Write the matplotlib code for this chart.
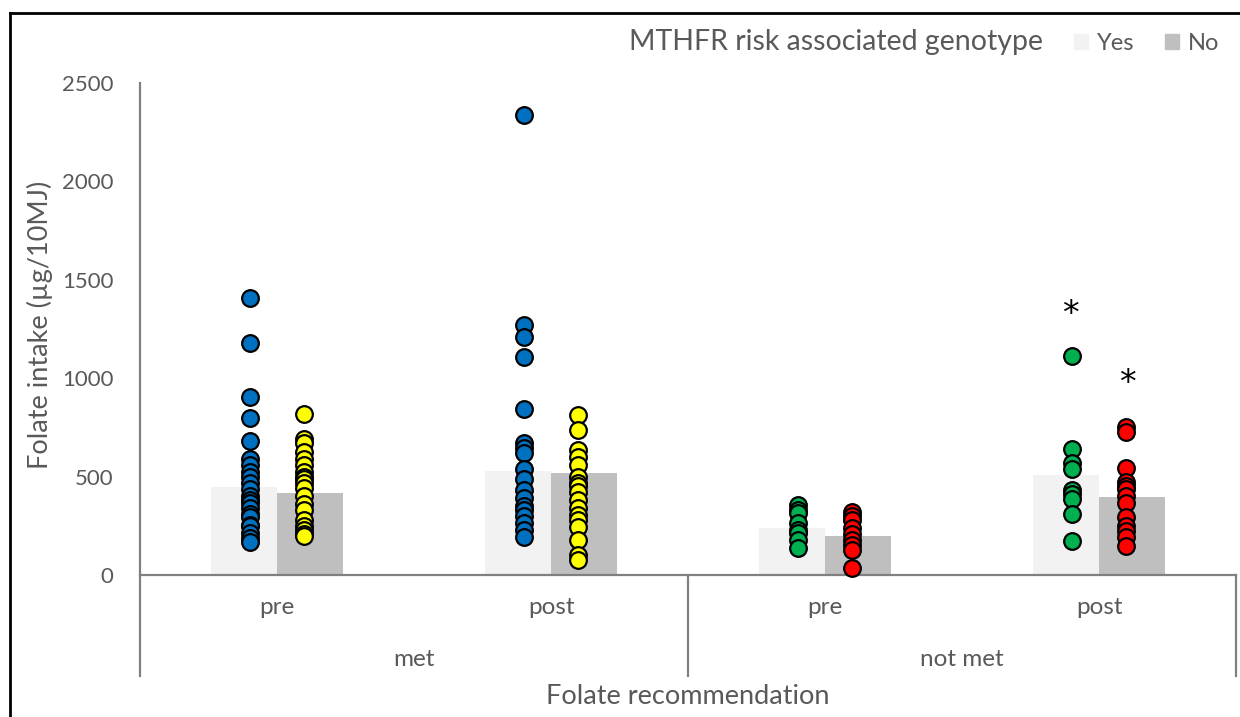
import numpy as np
import matplotlib
matplotlib.use("Agg")
import matplotlib.pyplot as plt
from matplotlib.lines import Line2D
from matplotlib.patches import Patch

plt.rcParams['font.family'] = ['Lato', 'DejaVu Sans']

# groups: met/pre, met/post, not met/pre, not met/post
sub_labels = ["pre", "post", "pre", "post"]
top_labels = ["met", "not met"]

bar_yes = [449, 528, 237, 508]
bar_no = [415, 520, 198, 396]

pts_yes = [
    [1406, 1180, 905, 800, 680, 590, 560, 525, 500, 465, 435, 400, 380, 365, 340, 310, 295, 255, 250, 215, 190, 170],
    [2337, 1270, 1210, 1110, 842, 670, 645, 620, 540, 490, 430, 390, 350, 330, 300, 263, 230, 195],
    [356, 330, 313, 266, 230, 212, 178, 136],
    [1113, 639, 567, 537, 430, 410, 385, 310, 174],
]
pts_no = [
    [820, 690, 670, 625, 590, 560, 525, 500, 490, 470, 440, 400, 360, 330, 280, 250, 230, 210, 200],
    [813, 737, 635, 600, 560, 500, 470, 450, 420, 380, 340, 305, 280, 245, 180, 100, 76],
    [322, 300, 279, 237, 210, 178, 150, 127, 34],
    [754, 729, 545, 474, 450, 435, 400, 367, 296, 250, 225, 195, 147],
]
col_yes = ["#0070C0", "#0070C0", "#00B050", "#00B050"]
col_no = ["#FFFF00", "#FFFF00", "#FF0000", "#FF0000"]

# significance markers (group index, side, y)
stars = [(3, -1, 1325), (3, 1, 975)]

grey = "#595959"
axis_col = "#808080"

W, H = 1240, 717
fig = plt.figure(figsize=(W / 100, H / 100), dpi=100)
ax = fig.add_axes([140 / W, 1 - 575 / H, (1236 - 140) / W, (575 - 83) / H])

x = np.arange(4) + 0.5
bw = 0.241
ax.bar(x - bw / 2, bar_yes, bw, color="#F2F2F2", zorder=1)
ax.bar(x + bw / 2, bar_no, bw, color="#BFBFBF", zorder=1)

off = 0.1
for i in range(4):
    ax.plot([x[i] - off] * len(pts_yes[i]), pts_yes[i], "o", ms=12, mfc=col_yes[i],
            mec="black", mew=1.6, zorder=3, clip_on=False)
    ax.plot([x[i] + off] * len(pts_no[i]), pts_no[i], "o", ms=12, mfc=col_no[i],
            mec="black", mew=1.6, zorder=3, clip_on=False)

for g, side, yv in stars:
    ax.text(x[g] + side * 0.105, yv, "*", ha="center", va="center", fontsize=24,
            color="black", family="DejaVu Sans")

ax.set_xlim(0, 4)
ax.set_ylim(0, 2500)
ax.set_yticks(range(0, 2501, 500))
ax.tick_params(axis="y", length=0, pad=19, labelsize=16, labelcolor=grey)
ax.tick_params(axis="x", length=0, labelbottom=False)
for s in ["top", "right", "left"]:
    ax.spines[s].set_visible(False)
ax.spines["bottom"].set_color(axis_col)
ax.spines["bottom"].set_linewidth(1.6)

# multi-level category axis lines
low = -(676 - 575) / 492
trans = ax.get_xaxis_transform()
for xv in [0, 2, 4]:
    ax.add_line(Line2D([xv, xv], [low, 1.0 if xv == 0 else 0], transform=trans,
                       color=axis_col, lw=1.6, clip_on=False))
for i, lab in enumerate(sub_labels):
    ax.text(x[i], -(608 - 575) / 492, lab, transform=trans, ha="center", va="center",
            fontsize=17.5, color=grey)
for j, lab in enumerate(top_labels):
    ax.text(1 + 2 * j, -(659 - 575) / 492, lab, transform=trans, ha="center", va="center",
            fontsize=17.5, color=grey)

fig.text(688 / W, 1 - 697 / H, "Folate recommendation", ha="center", va="center",
         fontsize=19.5, color=grey)
fig.text(40 / W, 1 - 325 / H, "Folate intake (µg/10MJ)", ha="center", va="center",
         rotation=90, fontsize=19.5, color=grey)

# legend
fig.text(836 / W, 1 - 42 / H, "MTHFR risk associated genotype", ha="center", va="center",
         fontsize=20.5, color=grey)
handles = [Patch(color="#F2F2F2"), Patch(color="#BFBFBF")]
fig.legend(handles, ["Yes", "No"], ncol=2, frameon=False, loc="center right",
           bbox_to_anchor=(1240 / W, 1 - 43 / H), fontsize=17, labelcolor=grey,
           handlelength=0.6, handleheight=0.6, handletextpad=0.35, columnspacing=1.3)

# outer frame lines (top and left)
fig.add_artist(Line2D([10 / W, 1], [1 - 13 / H] * 2, transform=fig.transFigure, color="black", lw=2))
fig.add_artist(Line2D([10 / W] * 2, [0, 1 - 13 / H], transform=fig.transFigure, color="black", lw=2))

fig.savefig("out.png", dpi=100)
